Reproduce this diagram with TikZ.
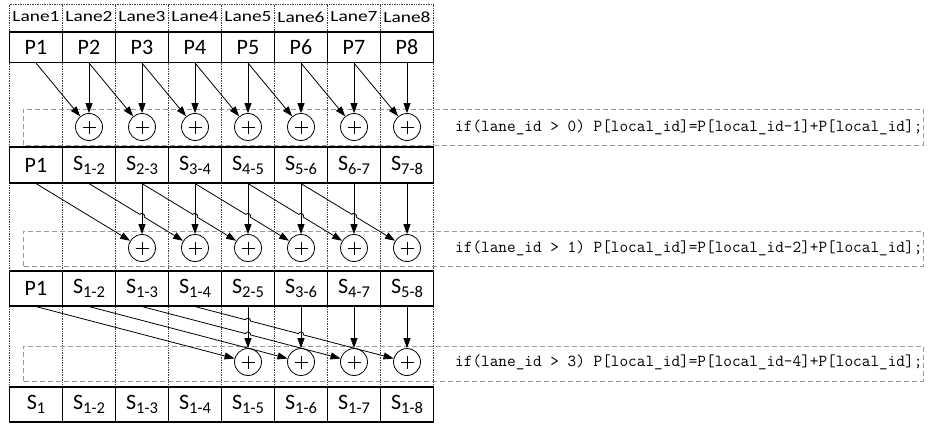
\documentclass[tikz,border=0pt]{standalone}
\usepackage{fontspec}
\usepackage{graphicx}
\setmainfont{Carlito}
\usetikzlibrary{arrows.meta,calc}

% S with a lowered range subscript, e.g. \Srange{1-2}
\newcommand\Srange[1]{S\raisebox{-4pt}{\fontsize{16.5}{16.5}\selectfont #1}}

\begin{document}
\begin{tikzpicture}[x=1pt,y=1pt,
  cell/.style={draw, line width=1.1pt, minimum width=53pt, inner sep=0pt,
    font=\fontsize{22}{22}\selectfont},
  lanelabel/.style={inner sep=0pt, font=\fontsize{15.5}{15.5}\selectfont},
  sum/.style={circle, draw, line width=0.8pt, minimum size=27pt, inner sep=0pt,
    path picture={\draw[line width=0.6pt]
      ([xshift=-6.5pt]path picture bounding box.center) -- ([xshift=6.5pt]path picture bounding box.center)
      ([yshift=-6.5pt]path picture bounding box.center) -- ([yshift=6.5pt]path picture bounding box.center);}},
  conn/.style={line width=0.8pt, -{Triangle[length=10pt,width=7pt]}},
  hop/.style={bend left=90, looseness=1.5},
  lanesep/.style={line width=0.8pt, black!75, dash pattern=on 0.8pt off 0.9pt},
  stagebox/.style={line width=0.9pt, black!40, dash pattern=on 5pt off 3pt},
  code/.style={anchor=west, inner sep=0pt, font=\ttfamily\fontsize{16.8}{16.8}\selectfont}]

\useasboundingbox (0,0) rectangle (928,424);

% lane separators (dotted)
\foreach \k in {0,...,8}
  \draw[lanesep] (9.5+53*\k,2) -- (9.5+53*\k,420);
\draw[lanesep] (9.5,420) -- (433.5,420);

% stage frames (dashed)
\draw[stagebox] (23,279) rectangle (923,315);
\draw[stagebox] (23,158) rectangle (923,193);
\draw[stagebox] (23,43) rectangle (923,78);

% lane headings and first row
\foreach \k in {1,...,8} {
  \node[lanelabel] (l\k) at (53*\k-17,407) {\scalebox{1.25}[1]{Lane\k}};
  \node[cell, minimum height=30.5pt] (a\k) at (53*\k-17,376.75) {P\k};
}

% second row
\foreach \k/\t in {1/P1, 2/\Srange{1-2}, 3/\Srange{2-3}, 4/\Srange{3-4},
                   5/\Srange{4-5}, 6/\Srange{5-6}, 7/\Srange{6-7}, 8/\Srange{7-8}}
  \node[cell, minimum height=36pt] (b\k) at (53*\k-17,259) {\t};

% third row
\foreach \k/\t in {1/P1, 2/\Srange{1-2}, 3/\Srange{1-3}, 4/\Srange{1-4},
                   5/\Srange{2-5}, 6/\Srange{3-6}, 7/\Srange{4-7}, 8/\Srange{5-8}}
  \node[cell, minimum height=35pt] (c\k) at (53*\k-17,135.5) {\t};

% result row
\foreach \k/\t in {1/\Srange{1}, 2/\Srange{1-2}, 3/\Srange{1-3}, 4/\Srange{1-4},
                   5/\Srange{1-5}, 6/\Srange{1-6}, 7/\Srange{1-7}, 8/\Srange{1-8}}
  \node[cell, minimum height=35pt] (d\k) at (53*\k-17,19.5) {\t};

% adders
\foreach \k in {2,...,8} \node[sum] (sA\k) at (53*\k-17,297) {};
\foreach \k in {3,...,8} \node[sum] (sB\k) at (53*\k-17,176) {};
\foreach \k in {5,...,8} \node[sum] (sC\k) at (53*\k-17,62) {};

% stage 1: offset 1
\foreach \k in {2,...,8} {
  \pgfmathtruncatemacro\i{\k-1}
  \draw[conn] (a\k.south) -- (sA\k);
  \draw[conn] (a\i.south) -- (sA\k);
}

% stage 2: offset 2
\foreach \k in {3,...,8} \draw[conn] (b\k.south) -- (sB\k);
\draw[conn] (b1.south) -- (sB3);
\foreach \i in {2,...,6} {
  \pgfmathtruncatemacro\j{\i+2}
  \pgfmathtruncatemacro\m{\i+1}
  \coordinate (x) at (intersection of b\i.south--sB\j.center and b\m.south--sB\m.center);
  \coordinate (xa) at ($(x)!2.6pt!(b\i.south)$);
  \coordinate (xb) at ($(x)!2.6pt!(sB\j.center)$);
  \draw[conn] (b\i.south) -- (xa) to[hop] (xb) -- (sB\j);
}

% stage 3: offset 4
\foreach \k in {5,...,8} \draw[conn] (c\k.south) -- (sC\k);
\draw[conn] (c1.south) -- (sC5);
\draw[conn] (c2.south) -- (sC6);
\coordinate (y35) at (intersection of c3.south--sC7.center and c5.south--sC5.center);
\coordinate (y45) at (intersection of c4.south--sC8.center and c5.south--sC5.center);
\coordinate (y46) at (intersection of c4.south--sC8.center and c6.south--sC6.center);
\draw[conn] (c3.south) -- ($(y35)!2.6pt!(c3.south)$) to[hop] ($(y35)!2.6pt!(sC7.center)$) -- (sC7);
\draw[conn] (c4.south) -- ($(y45)!2.6pt!(c4.south)$) to[hop] ($(y45)!2.6pt!(sC8.center)$)
  -- ($(y46)!2.6pt!(c4.south)$) to[hop] ($(y46)!2.6pt!(sC8.center)$) -- (sC8);

% per-stage kernel lines
\node[code] (t1) at (455,297) {if(lane\_id > 0) P[local\_id]=P[local\_id-1]+P[local\_id];};
\node[code] (t2) at (455,176) {if(lane\_id > 1) P[local\_id]=P[local\_id-2]+P[local\_id];};
\node[code] (t3) at (455,62) {if(lane\_id > 3) P[local\_id]=P[local\_id-4]+P[local\_id];};
\end{tikzpicture}
\end{document}
